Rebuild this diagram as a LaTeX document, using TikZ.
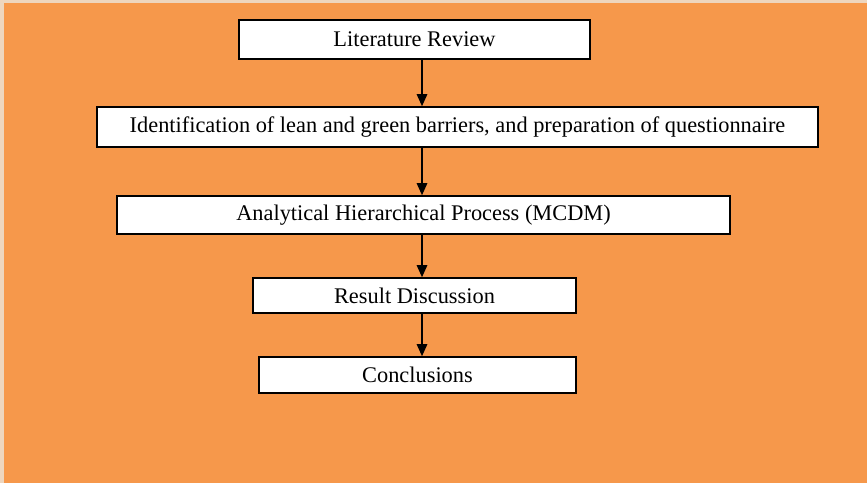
\documentclass[tikz,border=0pt]{standalone}
\usepackage{fontspec}
\setmainfont{Liberation Serif}
\usetikzlibrary{arrows.meta, positioning}
\definecolor{bgorange}{RGB}{246, 152, 75}
\definecolor{edgebeige}{RGB}{238, 214, 190}

\begin{document}
\begin{tikzpicture}[x=0.025cm, y=-0.025cm,
    stepbox/.style={draw=black, fill=white, line width=1.1pt, inner sep=0pt,
      font=\fontsize{15.9}{18}\selectfont},
    flow/.style={line width=1.1pt, -{Triangle[length=0.3cm, width=0.26cm]}}]
  % Background sheet
  \fill[edgebeige] (0, 0) rectangle (867, 483);
  \fill[bgorange] (4, 3) rectangle (867, 483);
  \useasboundingbox (0, 0) rectangle (867, 483);

  % Process steps
  \node[stepbox, minimum width=8.775cm, minimum height=0.975cm] (lit) at (414.5, 39.5) {Literature Review};
  \node[stepbox, minimum width=18.025cm, minimum height=1.0cm] (ident) at (457.5, 127) {Identification of lean and green barriers, and preparation of questionnaire};
  \node[stepbox, minimum width=15.325cm, minimum height=0.95cm] (ahp) at (423.5, 215) {Analytical Hierarchical Process (MCDM)};
  \node[stepbox, minimum width=8.075cm, minimum height=0.875cm] (result) at (414.5, 295.5) {Result Discussion};
  \node[stepbox, minimum width=7.925cm, minimum height=0.9cm] (concl) at (417.5, 375) {Conclusions};

  % Arrows down the middle
  \coordinate (spine) at (422, 0);
  \draw[flow] (lit.south -| spine) -- (ident.north -| spine);
  \draw[flow] (ident.south -| spine) -- (ahp.north -| spine);
  \draw[flow] (ahp.south -| spine) -- (result.north -| spine);
  \draw[flow] (result.south -| spine) -- (concl.north -| spine);
\end{tikzpicture}
\end{document}
